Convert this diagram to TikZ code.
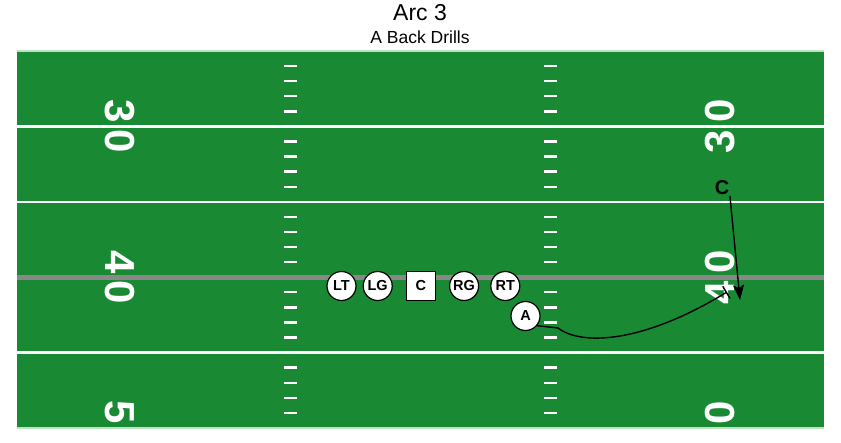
\documentclass[tikz,border=0pt]{standalone}
\usepackage{fontspec}
\setmainfont{Liberation Sans}
\usetikzlibrary{positioning, arrows.meta}
\definecolor{turf}{RGB}{25,138,51}
\definecolor{scrimmage}{RGB}{136,136,136}
\definecolor{sideline}{RGB}{190,225,195}
\tikzstyle{player} = [circle, minimum size=29pt, inner sep=0pt, draw=black, line width=1.2pt, fill=white, font=\fontsize{14.5}{16}\selectfont\bfseries]
\tikzstyle{snapper} = [rectangle, minimum size=29pt, inner sep=0pt, draw=black, line width=1.2pt, fill=white, font=\fontsize{14.5}{16}\selectfont\bfseries]
\tikzstyle{yardline} = [white, line width=2.6pt]
\tikzstyle{hash} = [white, line width=2.4pt]
\tikzstyle{yardnum} = [white, inner sep=0pt, font=\fontsize{42}{42}\selectfont\bfseries]
\tikzstyle{route} = [black, line width=1.4pt]
\begin{document}
\begin{tikzpicture}[x=1pt, y=-1pt]

\useasboundingbox (0,0) rectangle (841,442);

\node (title) [anchor=base, font=\fontsize{23}{25}\selectfont] at (420,20) {Arc 3};
\node (sub) [anchor=base, font=\fontsize{17.5}{19}\selectfont] at (420,43) {A Back Drills};

\fill [turf] (17,51) rectangle (824,428);
\draw [sideline, line width=1.5pt] (17,51) -- (824,51);
\draw [sideline, line width=1.5pt] (17,428) -- (824,428);
\foreach \y in {126.4, 201.8, 352.6}
  \draw [yardline] (17,\y) -- (824,\y);
\draw [scrimmage, line width=5pt] (17,277.2) -- (824,277.2);

\foreach \k in {0,...,4}
  \foreach \j in {1,...,4} {
    \pgfmathsetmacro{\hy}{51+75.4*\k+15.08*\j}
    \draw [hash] (284,\hy) -- (297,\hy);
    \draw [hash] (544,\hy) -- (557,\hy);
  }

\node (l30) [yardnum, rotate=-90] at (120,126.4) {3\,0};
\node (l40) [yardnum, rotate=-90] at (120,277.2) {4\,0};
\node (l5) [yardnum, rotate=-90] at (120,412.5) {5};
\node (r30) [yardnum, rotate=90] at (720,126.4) {3\,0};
\node (r40) [yardnum, rotate=90] at (720,277.2) {4\,0};
\node (r0) [yardnum, rotate=90] at (720,412.5) {0};

\node (lt) [player] at (341.5,286) {LT};
\node (lg) [player, right=6pt of lt] {LG};
\node (c) [snapper, right=13pt of lg] {C};
\node (rg) [player, right=13pt of c] {RG};
\node (rt) [player, right=11pt of rg] {RT};
\node (a) [player] at (525.5,316) {A};
\node (wr) [inner sep=0.5pt, font=\fontsize{20}{20}\selectfont\bfseries] at (722,188) {C};

\coordinate (cEnd) at (740,300);
\coordinate (aEnd) at (727,292);

\draw [route, -{Stealth[length=15pt, width=11pt, inset=3pt]}] (wr.south east) -- (cEnd);
\draw [route, -{Bar[width=14pt]}] (a.-40) -- (558,328) .. controls (580,345) and (640,345) .. (aEnd);

\end{tikzpicture}
\end{document}
